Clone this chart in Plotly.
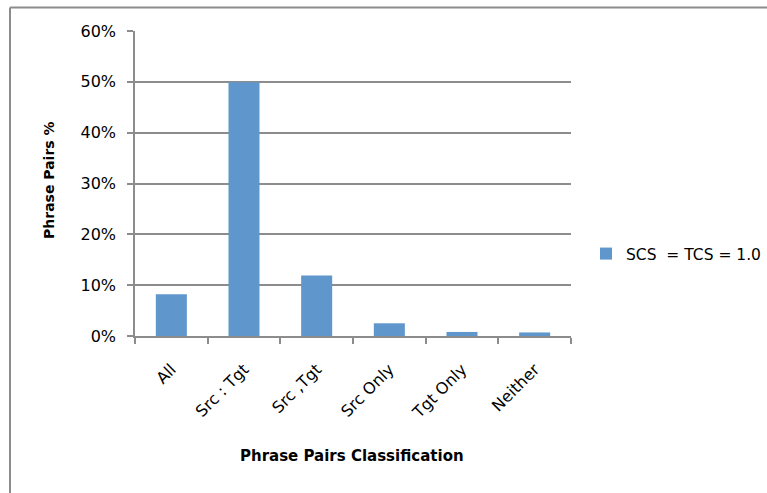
import plotly.graph_objects as go

categories = ["All", "Src : Tgt", "Src ,Tgt", "Src Only", "Tgt Only", "Neither"]
values = [0.082, 0.499, 0.119, 0.025, 0.008, 0.007]
series_name = "SCS\u00a0 = TCS = 1.0"
y_ticks = [0, 0.1, 0.2, 0.3, 0.4, 0.5, 0.6]
y_tick_labels = ["0%", "10%", "20%", "30%", "40%", "50%", "60%"]
x_title = "<b>Phrase Pairs Classification</b>"
y_title = "<b>Phrase Pairs %</b>"

font_family = "'DejaVu Sans', sans-serif"
grid = "#8c8c8c"

L, R, T, B = 135, 571, 31, 336
W, H = R - L, B - T

fig = go.Figure()
fig.add_trace(go.Bar(x=categories, y=values, name=series_name,
                     marker=dict(color="#5f97cc", line=dict(width=0))))

fig.update_layout(
    width=767, height=493,
    margin=dict(l=L, r=767 - R, t=T, b=493 - B, autoexpand=False),
    paper_bgcolor="white", plot_bgcolor="white",
    font=dict(family=font_family, size=16, color="#000"),
    bargap=0.573,
    showlegend=True,
    legend=dict(x=(586 - L) / W, y=(B - 254) / H, xanchor="left", yanchor="middle",
                font=dict(size=15.5), itemwidth=30, bgcolor="rgba(0,0,0,0)"),
    xaxis=dict(
        tickangle=-45, tickson="boundaries", ticks="outside", ticklen=6,
        tickcolor=grid, tickwidth=1.5, automargin=False,
        showline=True, linecolor=grid, linewidth=1.5,
        showgrid=False, tickfont=dict(size=16), ticklabelstandoff=16,
    ),
    yaxis=dict(
        range=[0, 0.6], tickvals=y_ticks, ticktext=y_tick_labels,
        ticks="outside", ticklen=6, tickcolor=grid, tickwidth=1.5,
        showline=True, linecolor=grid, linewidth=1.5, automargin=False,
        showgrid=True, gridcolor=grid, gridwidth=1.5,
        zeroline=False, tickfont=dict(size=16), ticklabelstandoff=8,
    ),
)

fig.add_annotation(text=x_title, xref="paper", yref="paper",
                   x=(352 - L) / W, y=(B - 456) / H, xanchor="center", yanchor="middle",
                   showarrow=False, font=dict(size=15))
fig.add_annotation(text=y_title, xref="paper", yref="paper", textangle=-90,
                   x=(49 - L) / W, y=(B - 180) / H, xanchor="center", yanchor="middle",
                   showarrow=False, font=dict(size=14))

# chart-area border (top and left edges visible in the frame)
fig.add_shape(type="line", xref="paper", yref="paper",
              x0=(10 - L) / W, x1=(767 - L) / W, y0=(B - 7.5) / H, y1=(B - 7.5) / H,
              line=dict(color=grid, width=2))
fig.add_shape(type="line", xref="paper", yref="paper",
              x0=(10 - L) / W, x1=(10 - L) / W, y0=(B - 7.5) / H, y1=(B - 493) / H,
              line=dict(color=grid, width=2))

fig.write_html("out.html", config={"displayModeBar": False},
               post_script="document.body.style.margin='0';")
